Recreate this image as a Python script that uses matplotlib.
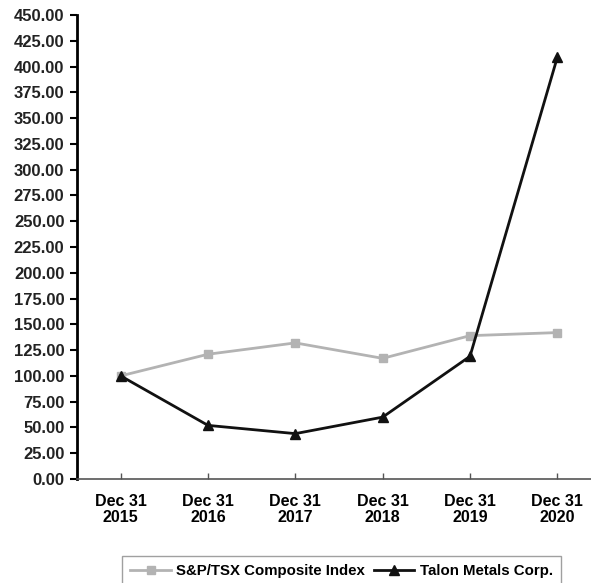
import matplotlib.pyplot as plt
from matplotlib.ticker import MultipleLocator, FormatStrFormatter

plt.rcParams['font.family'] = ['Liberation Sans', 'DejaVu Sans']
plt.rcParams['font.weight'] = 'bold'

dates = ['Dec 31\n2015', 'Dec 31\n2016', 'Dec 31\n2017', 'Dec 31\n2018', 'Dec 31\n2019', 'Dec 31\n2020']
tsx = [100, 121, 132, 117, 139, 142]
talon = [100, 52, 44, 60, 119, 409]

fig = plt.figure(figsize=(5.91, 5.83), dpi=100)
# axes run past the right edge, as in the reference
ax = fig.add_axes([77 / 591, 104 / 583, 524 / 591, 464 / 583])

x = range(len(dates))
ax.plot(x, tsx, color='#b3b3b3', lw=2, marker='s', ms=6, label='S&P/TSX Composite Index')
ax.plot(x, talon, color='#111111', lw=2, marker='^', ms=7, label='Talon Metals Corp.')

ax.set_xlim(-0.5, 5.5)
ax.set_ylim(0, 450)
ax.yaxis.set_major_locator(MultipleLocator(25))
ax.yaxis.set_major_formatter(FormatStrFormatter('%.2f'))
ax.set_xticks(list(x))
ax.set_xticklabels(dates, fontsize=11.5, fontweight='bold', linespacing=1.1)
for lab in ax.get_yticklabels():
    lab.set_fontsize(12)
    lab.set_fontweight('bold')
    lab.set_color('#222222')

ax.spines['top'].set_visible(False)
ax.spines['right'].set_visible(False)
ax.spines['left'].set_linewidth(2)
ax.spines['bottom'].set_linewidth(1.2)
ax.spines['bottom'].set_color('#555555')
ax.tick_params(axis='y', direction='out', length=5, width=1.5, pad=4)
ax.tick_params(axis='x', direction='in', length=4, width=1, color='#555555', pad=11)

leg = fig.legend(loc='upper left', bbox_to_anchor=(122 / 591, 1 - 556 / 583), ncol=2,
                 frameon=True, fancybox=False, edgecolor='#888888',
                 handlelength=2.7, columnspacing=0.6, handletextpad=0.35,
                 borderpad=0.55, borderaxespad=0, prop={'weight': 'bold', 'size': 10.8})
leg.get_frame().set_linewidth(1)

fig.savefig('out.png', dpi=100)
